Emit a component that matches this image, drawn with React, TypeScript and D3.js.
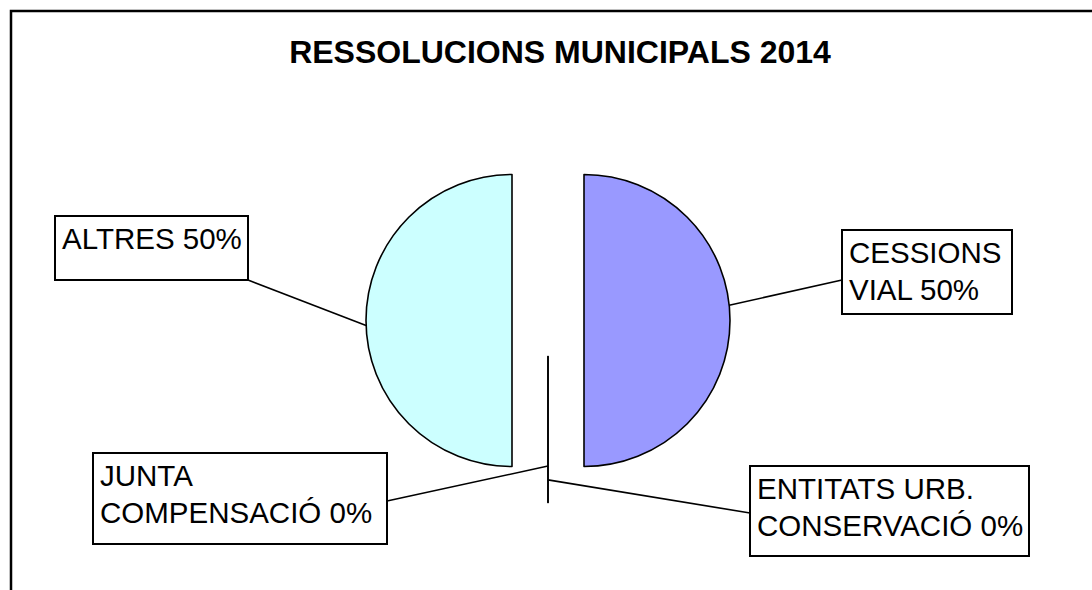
import * as d3 from "d3";

const categories = ["CESSIONS VIAL", "ENTITATS URB. CONSERVACIÓ", "JUNTA COMPENSACIÓ", "ALTRES"];
const values = [50, 0, 0, 50];
const labelLines = [
  ["CESSIONS", "VIAL 50%"],
  ["ENTITATS URB.", "CONSERVACIÓ 0%"],
  ["JUNTA", "COMPENSACIÓ 0%"],
  ["ALTRES 50%"],
];
const colors = ["#9999FF", "#CCFFFF", "#CCFFFF", "#CCFFFF"];
const title = "RESSOLUCIONS MUNICIPALS 2014";

const W = 1092;
const H = 590;
const cx = 548;
const cy = 320.5;
const R = 146;
const explode = 36;

// label boxes: position, where the leader meets the box, and where it meets the slice
const labelLayout = [
  { x: 842, y: 230, w: 170, h: 84, ax: 842, ay: 280, angle: 84, rr: 1 },
  { x: 750, y: 466, w: 279, h: 90, ax: 750, ay: 513, angle: 180, rr: 0.845 },
  { x: 93, y: 453, w: 294, h: 91, ax: 387, ay: 501, angle: 180, rr: 0.75 },
  { x: 55, y: 216, w: 193, h: 64, ax: 248, ay: 280, angle: 268, rr: 1 },
];

export default function App() {
  const data = categories.map((name, i) => ({ name, value: values[i] }));
  const pie = d3.pie<{ name: string; value: number }>().sort(null).value((d) => d.value);
  const arc = d3.arc<d3.PieArcDatum<{ name: string; value: number }>>().innerRadius(0).outerRadius(R);
  const arcs = pie(data);

  const offset = (a: d3.PieArcDatum<any>) => {
    const mid = (a.startAngle + a.endAngle) / 2;
    return [Math.sin(mid) * explode, -Math.cos(mid) * explode];
  };

  return (
    <svg width={W} height={H} style={{ position: "absolute", left: 0, top: 0 }} fontFamily="'Liberation Sans', Arial, sans-serif">
      <rect x={0} y={0} width={W} height={H} fill="#fff" />
      <rect x={11} y={11} width={1200} height={700} fill="none" stroke="#000" strokeWidth={2.5} />
      <text x={560} y={63} textAnchor="middle" fontSize={32} fontWeight="bold">
        {title}
      </text>
      {arcs.map((a, i) => {
        const [dx, dy] = offset(a);
        return (
          <path
            key={categories[i]}
            d={arc(a) || ""}
            transform={`translate(${cx + dx},${cy + dy})`}
            fill={colors[i]}
            stroke="#000"
            strokeWidth={1.6}
            strokeLinejoin="round"
          />
        );
      })}
      {arcs.map((a, i) => {
        const [dx, dy] = offset(a);
        const L = labelLayout[i];
        const ang = (L.angle * Math.PI) / 180;
        const px = cx + dx + Math.sin(ang) * R * L.rr;
        const py = cy + dy - Math.cos(ang) * R * L.rr;
        return (
          <g key={"lbl" + i}>
            <line x1={px} y1={py} x2={L.ax} y2={L.ay} stroke="#000" strokeWidth={1.6} />
            <rect x={L.x} y={L.y} width={L.w} height={L.h} fill="#fff" stroke="#000" strokeWidth={2} />
            {labelLines[i].map((t, j) => (
              <text key={j} x={L.x + 7} y={L.y + 33 + j * 37} fontSize={29.5}>
                {t}
              </text>
            ))}
          </g>
        );
      })}
    </svg>
  );
}
